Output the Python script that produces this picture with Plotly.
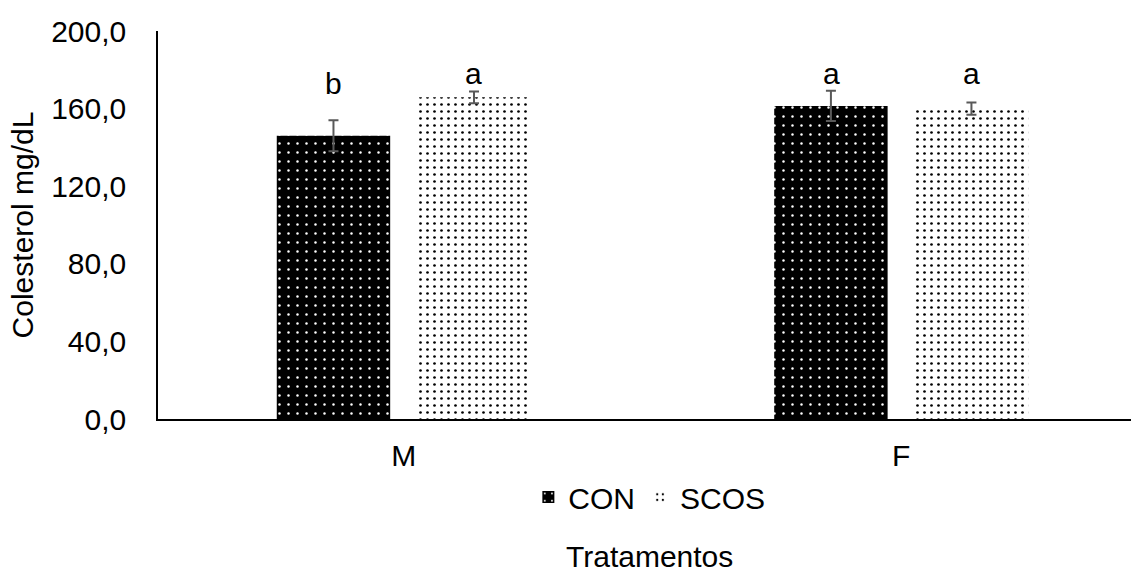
import plotly.graph_objects as go

categories = ["M", "F"]
con_values = [146.0, 161.4]
con_err = [8.0, 7.8]
scos_values = [165.8, 160.0]
scos_err = [3.0, 3.2]
letters_con = ["b", "a"]
letters_scos = ["a", "a"]
letters_con_y = [173.0, 178.0]
letters_scos_y = [178.0, 178.0]
y_ticks = [0, 40, 80, 120, 160, 200]

FONT = "Liberation Sans, Arial, sans-serif"
FS = 30

fig = go.Figure()
fig.add_trace(go.Bar(
    name="CON", x=categories, y=con_values,
    error_y=dict(type="data", array=con_err, color="#595959", thickness=2, width=5),
    marker=dict(color="black", line=dict(width=0),
                pattern=dict(shape=".", bgcolor="black", fgcolor="white",
                             fillmode="replace", size=9, solidity=0.06)),
))
fig.add_trace(go.Bar(
    name="SCOS", x=categories, y=scos_values,
    error_y=dict(type="data", array=scos_err, color="#595959", thickness=2, width=5),
    marker=dict(color="white", line=dict(width=0),
                pattern=dict(shape=".", bgcolor="white", fgcolor="black",
                             fillmode="replace", size=7, solidity=0.12)),
))

# significance letters above bars (pixel offset to each bar within its group)
for cat, txt, yy in zip(categories, letters_con, letters_con_y):
    fig.add_annotation(x=cat, y=yy, text=txt, showarrow=False, xshift=-70,
                       yanchor="middle", font=dict(family=FONT, size=FS, color="black"))
for cat, txt, yy in zip(categories, letters_scos, letters_scos_y):
    fig.add_annotation(x=cat, y=yy, text=txt, showarrow=False, xshift=70,
                       yanchor="middle", font=dict(family=FONT, size=FS, color="black"))

# x-axis title
fig.add_annotation(text="Tratamentos", xref="paper", yref="paper", x=0.505, y=-0.355,
                   showarrow=False, yanchor="middle", xanchor="center",
                   font=dict(family=FONT, size=FS, color="black"))

fig.update_layout(
    width=1131, height=576,
    margin=dict(l=158, r=0, t=31, b=157, autoexpand=False),
    paper_bgcolor="white", plot_bgcolor="white",
    barmode="group", bargap=0.435, bargroupgap=0.193,
    separators=",.",
    font=dict(family=FONT, size=FS, color="black"),
    showlegend=True,
    legend=dict(orientation="h", x=0.505, xanchor="center",
                yref="container", y=0.137, yanchor="middle",
                font=dict(family=FONT, size=FS, color="black"),
                itemclick=False, bgcolor="rgba(0,0,0,0)"),
    xaxis=dict(
        range=[-0.494, 1.462],
        showline=True, linecolor="black", linewidth=2,
        ticks="", ticklabelstandoff=9,
        tickfont=dict(family=FONT, size=FS, color="black"),
        showgrid=False, zeroline=False,
    ),
    yaxis=dict(
        range=[0, 200], tickvals=y_ticks, tickformat=".1f",
        showline=True, linecolor="black", linewidth=1.5,
        ticks="", ticklabelstandoff=24,
        tickfont=dict(family=FONT, size=FS, color="black"),
        title=dict(text="Colesterol mg/dL", standoff=9,
                   font=dict(family=FONT, size=FS, color="black")),
        showgrid=False, zeroline=False,
    ),
)

fig.write_html("out.html")
